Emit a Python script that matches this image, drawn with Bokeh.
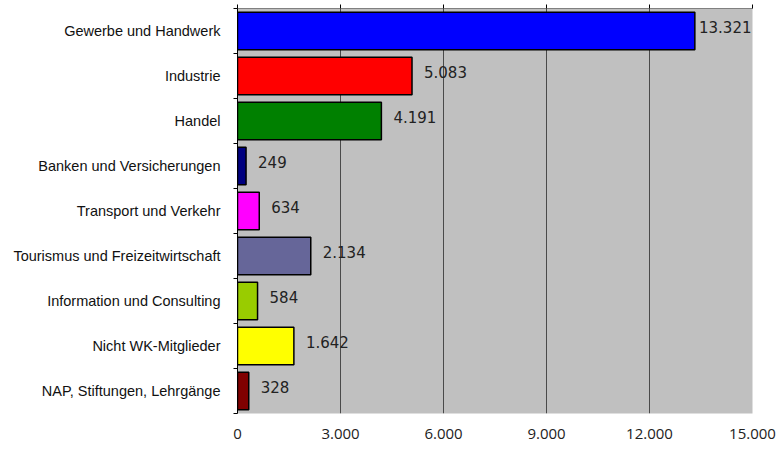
import numpy as np
from bokeh.plotting import figure
from bokeh.models import ColumnDataSource, Range1d, FixedTicker, LinearAxis
from bokeh.core.properties import value
from bokeh.embed import file_html
from bokeh.resources import INLINE

categories = ["Gewerbe und Handwerk", "Industrie", "Handel",
              "Banken und Versicherungen", "Transport und Verkehr",
              "Tourismus und Freizeitwirtschaft", "Information und Consulting",
              "Nicht WK-Mitglieder", "NAP, Stiftungen, Lehrgänge"]
values = [13321, 5083, 4191, 249, 634, 2134, 584, 1642, 328]
colors = ["#0000FF", "#FF0000", "#008000", "#000080", "#FF00FF",
          "#666699", "#99CC00", "#FFFF00", "#800000"]
x_ticks = [0, 3000, 6000, 9000, 12000, 15000]
x_tick_labels = ["0", "3.000", "6.000", "9.000", "12.000", "15.000"]
X_MAX = 15000

n = len(categories)
ypos = [n - i - 0.5 for i in range(n)]

def fmt(v):
    return f"{v:,}".replace(",", ".")

labels = [fmt(v) for v in values]
near_end = [v / X_MAX > 0.85 for v in values]
label_x = [X_MAX if ne else v for v, ne in zip(values, near_end)]
label_align = ["right" if ne else "left" for ne in near_end]
label_off = [-1 if ne else 12 for ne in near_end]

src = ColumnDataSource(dict(y=ypos, v=values, c=colors, lx=label_x,
                            la=label_align, lo=label_off, t=labels))

p = figure(width=776, height=441, output_backend="svg", toolbar_location=None,
           x_range=Range1d(0, X_MAX), y_range=Range1d(0, n),
           x_axis_location="below", min_border_left=237, min_border_right=24,
           min_border_top=8, min_border_bottom=0)

p.background_fill_color = "#C0C0C0"
p.border_fill_color = "white"
p.outline_line_color = None

p.hbar(y="y", right="v", left=0, height=0.83, fill_color="c",
       line_color="black", line_width=1.5, source=src)

p.text(x="lx", y="y", text="t", x_offset="lo", y_offset=-4,
       text_align="la", text_baseline="middle",
       text_font=value("DejaVu Sans"), text_font_size="15px",
       text_color="#222222", source=src)

# grid
p.ygrid.grid_line_color = None
p.xgrid.ticker = FixedTicker(ticks=x_ticks)
p.xgrid.grid_line_color = "#4a4a4a"
p.xgrid.grid_line_width = 1

# bottom axis: labels only
xa = p.xaxis[0]
xa.ticker = FixedTicker(ticks=x_ticks)
xa.major_label_overrides = {t: l for t, l in zip(x_ticks, x_tick_labels)}
xa.axis_line_color = None
xa.major_tick_line_color = None
xa.minor_tick_line_color = None
xa.major_tick_out = 0
xa.major_label_standoff = 15
xa.major_label_text_font = "Open Sans"
xa.major_label_text_font_size = "15px"
xa.major_label_text_color = "#222222"

# top axis: line and ticks only
ta = LinearAxis(ticker=FixedTicker(ticks=x_ticks))
ta.major_label_overrides = {t: "" for t in x_ticks}
ta.major_label_text_font_size = "1px"
ta.major_label_standoff = 0
ta.axis_line_color = "#808080"
ta.major_tick_line_color = "black"
ta.major_tick_in = 0
ta.major_tick_out = 4
ta.minor_tick_line_color = None
p.add_layout(ta, "above")

# left axis with category labels, ticks at boundaries
ya = p.yaxis[0]
ya.ticker = FixedTicker(ticks=ypos, minor_ticks=list(range(n + 1)))
ya.major_label_overrides = {y: c for y, c in zip(ypos, categories)}
ya.major_tick_line_color = None
ya.major_tick_out = 0
ya.minor_tick_in = 0
ya.minor_tick_out = 4
ya.minor_tick_line_color = "black"
ya.axis_line_color = "black"
ya.major_label_standoff = 13
ya.major_label_text_font = "Liberation Sans"
ya.major_label_text_font_size = "14.5px"
ya.major_label_text_color = "#111111"

open("out.html", "w").write(file_html(p, INLINE))
